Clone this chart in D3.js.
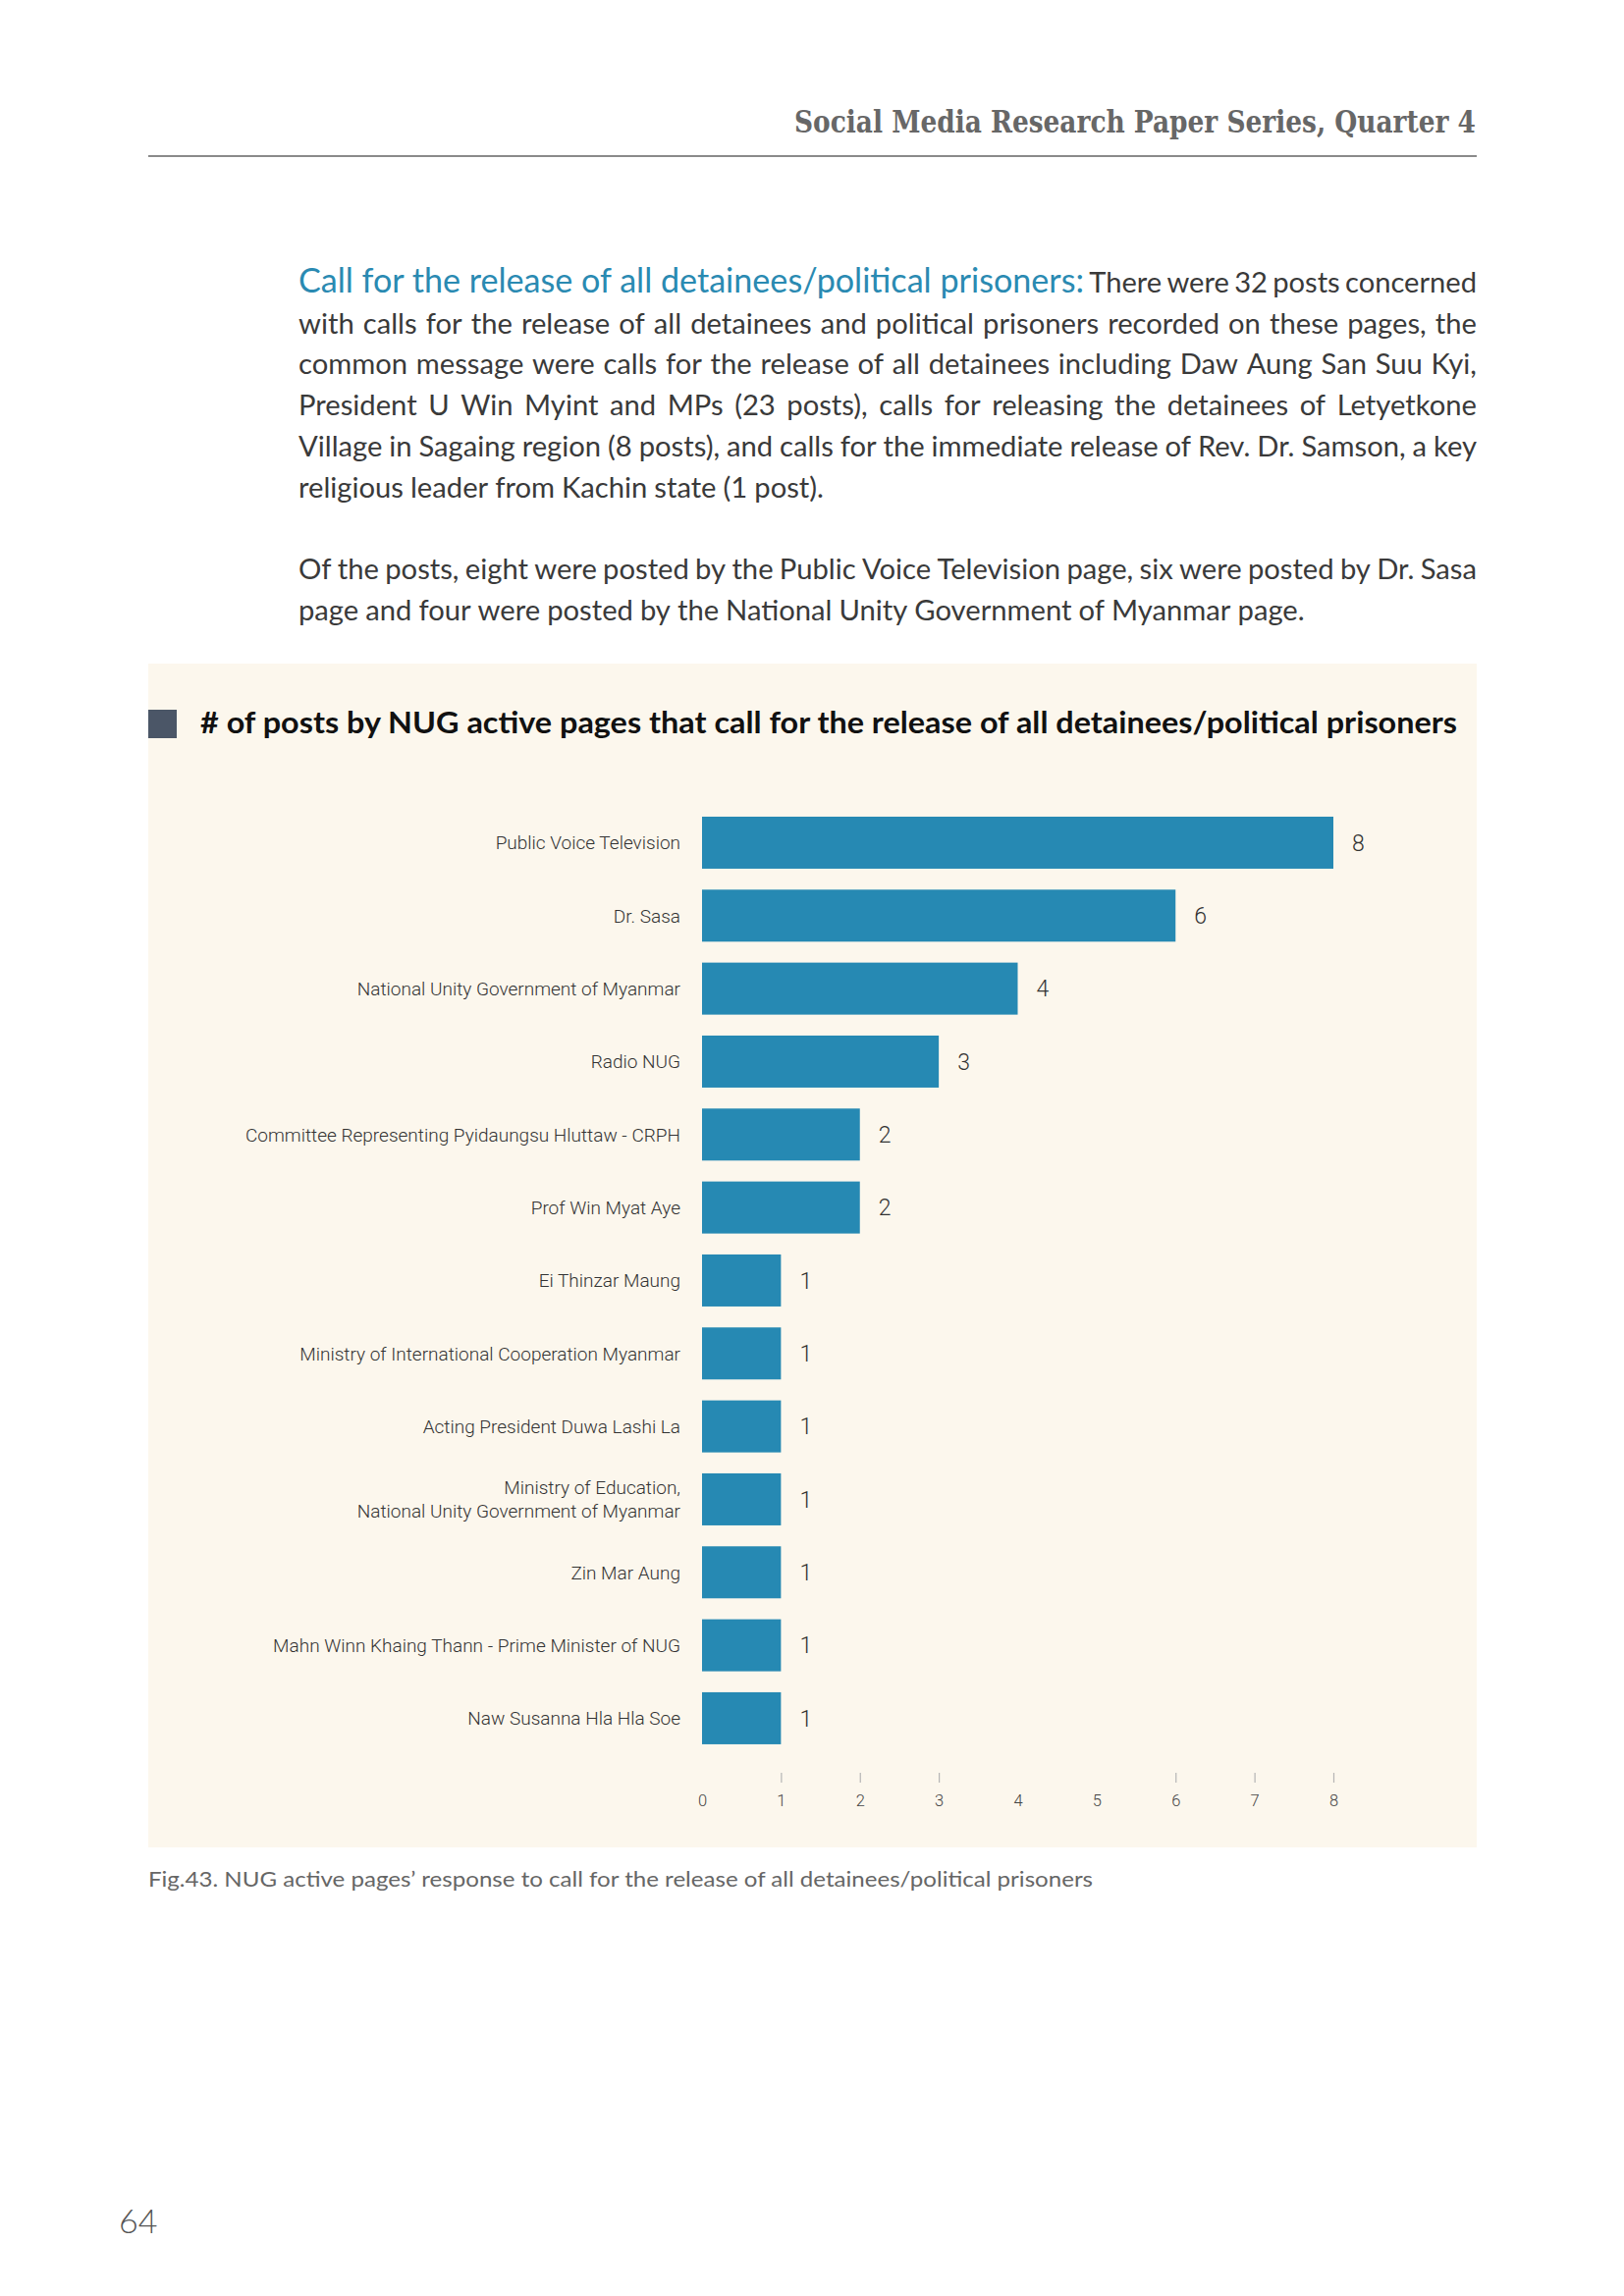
<!DOCTYPE html>
<html><head><meta charset="utf-8">
<script src="https://cdn.jsdelivr.net/npm/d3@7"></script>
<style>body{margin:0;background:#fff} svg{display:block}</style>
</head><body>
<script>
// ---------- data ----------
const headerText = "Social Media Research Paper Series, Quarter 4";
const leadHeading = "Call for the release of all detainees/political prisoners:";
const para1Lines = [
  "There were 32 posts concerned",
  "with calls for the release of all detainees and political prisoners recorded on these pages, the",
  "common message were calls for the release of all detainees including Daw Aung San Suu Kyi,",
  "President U Win Myint and MPs (23 posts), calls for releasing the detainees of Letyetkone",
  "Village in Sagaing region (8 posts), and calls for the immediate release of Rev. Dr. Samson, a key",
  "religious leader from Kachin state (1 post)."
];
const para2Lines = [
  "Of the posts, eight were posted by the Public Voice Television page, six were posted by Dr. Sasa",
  "page and four were posted by the National Unity Government of Myanmar page."
];
const chartTitle = "# of posts by NUG active pages that call for the release of all detainees/political prisoners";
const categories = [
  "Public Voice Television",
  "Dr. Sasa",
  "National Unity Government of Myanmar",
  "Radio NUG",
  "Committee Representing Pyidaungsu Hluttaw - CRPH",
  "Prof Win Myat Aye",
  "Ei Thinzar Maung",
  "Ministry of International Cooperation Myanmar",
  "Acting President Duwa Lashi La",
  "Ministry of Education,\nNational Unity Government of Myanmar",
  "Zin Mar Aung",
  "Mahn Winn Khaing Thann - Prime Minister of NUG",
  "Naw Susanna Hla Hla Soe"
];
const values = [8, 6, 4, 3, 2, 2, 1, 1, 1, 1, 1, 1, 1];
const xTickValues = [0, 1, 2, 3, 4, 5, 6, 7, 8];
const xTickMarksShown = [1, 2, 3, 6, 7, 8];
const captionText = "Fig.43. NUG active pages\u2019 response to call for the release of all detainees/political prisoners";
const pageNumber = "64";

// ---------- drawing ----------
const W = 1654, H = 2339;
const svg = d3.select("body").append("svg").attr("width", W).attr("height", H);
svg.append("rect").attr("width", W).attr("height", H).attr("fill", "#fff");

// header
svg.append("text").attr("x", 809).attr("y", 135)
  .attr("font-family", "'DejaVu Serif Condensed','DejaVu Serif',serif")
  .attr("font-weight", "bold").attr("font-size", 31).attr("fill", "#676767")
  .attr("textLength", 694).attr("lengthAdjust", "spacingAndGlyphs")
  .text(headerText);
svg.append("line").attr("x1", 151).attr("x2", 1504).attr("y1", 159).attr("y2", 159)
  .attr("stroke", "#8a8a8a").attr("stroke-width", 2);

// paragraphs
const bodyFont = "Lato, 'Open Sans', sans-serif";
const bodySize = 29.2;
const textX0 = 304, textX1 = 1504, lineH = 41.7;

function placeLine(tokens, y, justify) {
  const nodes = tokens.map(t => svg.append("text")
    .attr("y", y).attr("font-family", bodyFont)
    .attr("font-size", t.size || bodySize).attr("font-weight", t.weight || 400)
    .attr("fill", t.color || "#3a3a3a").text(t.text));
  let widths = nodes.map(n => n.node().getComputedTextLength());
  let total = d3.sum(widths);
  const minGap = bodySize * 0.18;
  const target = textX1 - textX0;
  if (justify && total + minGap * (nodes.length - 1) > target) {
    const f = (target - minGap * (nodes.length - 1)) / total;
    widths = widths.map(w => w * f);
    nodes.forEach((n, i) => n.attr("textLength", widths[i]).attr("lengthAdjust", "spacingAndGlyphs"));
    total = d3.sum(widths);
  }
  const gap = justify && nodes.length > 1 ? (target - total) / (nodes.length - 1) : bodySize * 0.24;
  let x = textX0;
  nodes.forEach((n, i) => { n.attr("x", x); x += widths[i] + gap; });
}
function wordsOf(s, style) { return s.split(" ").map(w => Object.assign({text: w}, style || {})); }

let y = 298;
placeLine([{text: leadHeading, color: "#2a8ab2", size: 34.2}].concat(wordsOf(para1Lines[0])), y, true);
para1Lines.slice(1).forEach((l, i) => {
  y += lineH;
  placeLine(wordsOf(l), y, i < para1Lines.length - 2);
});
y += lineH * 2;
para2Lines.forEach((l, i) => {
  placeLine(wordsOf(l), y, i < para2Lines.length - 1);
  y += lineH;
});

// chart panel
svg.append("rect").attr("x", 151).attr("y", 676).attr("width", 1353).attr("height", 1206)
  .attr("fill", "#fcf7ed");
svg.append("rect").attr("x", 151).attr("y", 723).attr("width", 29).attr("height", 29)
  .attr("fill", "#4b5667");
svg.append("text").attr("x", 204).attr("y", 747)
  .attr("font-family", "Lato, sans-serif").attr("font-weight", 700).attr("font-size", 31)
  .attr("fill", "#111").attr("textLength", 1280).attr("lengthAdjust", "spacingAndGlyphs")
  .text(chartTitle);

const x = d3.scaleLinear().domain([0, 8]).range([715, 1358]);
const yb = d3.scaleBand().domain(categories).range([821.3, 1787.6])
  .paddingInner(0.287).paddingOuter(0.1435);

const labelFont = "Roboto, 'Liberation Sans', sans-serif";
const g = svg.append("g");
g.selectAll("rect.bar").data(categories).join("rect").attr("class", "bar")
  .attr("x", x(0)).attr("y", d => yb(d))
  .attr("width", (d, i) => x(values[i]) - x(0)).attr("height", yb.bandwidth())
  .attr("fill", "#2689b3");

// category labels
g.selectAll("text.cat").data(categories).join("text").attr("class", "cat")
  .attr("text-anchor", "end").attr("font-family", labelFont).attr("font-weight", 300)
  .attr("font-size", 19).attr("fill", "#333")
  .each(function(d) {
    const lines = d.split("\n");
    const cy = yb(d) + yb.bandwidth() / 2;
    const t = d3.select(this);
    lines.forEach((ln, k) => {
      t.append("tspan").attr("x", 693)
        .attr("y", cy + (k - (lines.length - 1) / 2) * 24)
        .attr("dy", "0.36em").text(ln);
    });
  });

// value labels
g.selectAll("text.val").data(categories).join("text").attr("class", "val")
  .attr("x", (d, i) => x(values[i]) + 19)
  .attr("y", d => yb(d) + yb.bandwidth() / 2).attr("dy", "0.36em")
  .attr("font-family", labelFont).attr("font-weight", 300).attr("font-size", 23)
  .attr("fill", "#333").text((d, i) => values[i]);

// x axis
const axis = d3.axisBottom(x).tickValues(xTickValues).tickFormat(d3.format("d"))
  .tickSize(10).tickPadding(12);
const ax = svg.append("g").attr("transform", "translate(0,1806)").call(axis);
ax.select(".domain").remove();
ax.selectAll(".tick line").attr("stroke", "#b5b5b5").attr("stroke-width", 1.2)
  .attr("opacity", d => xTickMarksShown.includes(d) ? 1 : 0);
ax.selectAll(".tick text").attr("font-family", labelFont).attr("font-weight", 300)
  .attr("font-size", 16.5).attr("fill", "#444");

// caption
svg.append("text").attr("x", 151).attr("y", 1922)
  .attr("font-family", bodyFont).attr("font-size", 22).attr("fill", "#666")
  .attr("textLength", 962).attr("lengthAdjust", "spacingAndGlyphs")
  .text(captionText);

// page number
svg.append("text").attr("x", 121).attr("y", 2275)
  .attr("font-family", "Lato, sans-serif").attr("font-weight", 300).attr("font-size", 34)
  .attr("fill", "#555").text(pageNumber);
</script>
</body></html>
